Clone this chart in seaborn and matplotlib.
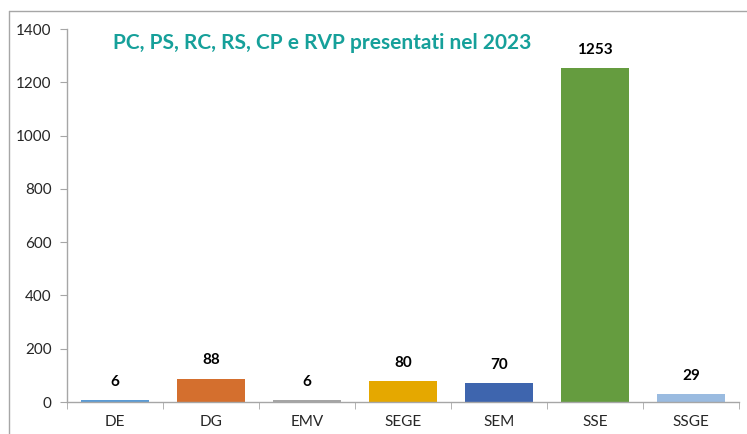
import pandas as pd
import matplotlib
matplotlib.use('Agg')
import matplotlib.pyplot as plt
import seaborn as sns
from matplotlib.lines import Line2D

# dati
categorie = ['DE', 'DG', 'EMV', 'SEGE', 'SEM', 'SSE', 'SSGE']
valori = [6, 88, 6, 80, 70, 1253, 29]
colori = ['#5B9BD5', '#D46F2E', '#A5A5A5', '#E5A800', '#3E65AE', '#659C3F', '#9ABBE0']
titolo = 'PC, PS, RC, RS, CP e RVP presentati nel 2023'

df = pd.DataFrame({'cat': categorie, 'val': valori})

sns.set_style('white')
plt.rcParams['font.family'] = ['Lato', 'DejaVu Sans']

fig = plt.figure(figsize=(7.47, 4.34), dpi=100)
ax = fig.add_axes([67 / 747, 32 / 434, (739 - 67) / 747, (405 - 32) / 434])

sns.barplot(data=df, x='cat', y='val', hue='cat', palette=colori, legend=False,
            width=0.71, ax=ax, saturation=1, edgecolor='none')

ax.set_xlim(-0.5, len(categorie) - 0.5)
ax.set_ylim(0, 1400)
ax.set_yticks(range(0, 1401, 200))
ax.set_xlabel('')
ax.set_ylabel('')

grigio = '#A6A6A6'
for s in ['top', 'right']:
    ax.spines[s].set_visible(False)
for s in ['left', 'bottom']:
    ax.spines[s].set_color(grigio)
    ax.spines[s].set_linewidth(1.0)

ax.tick_params(axis='y', which='major', length=5, color=grigio, labelsize=11, pad=6, direction='out', left=True)
ax.tick_params(axis='x', which='major', length=0, labelsize=11, pad=9)
ax.set_xticks([i - 0.5 for i in range(len(categorie) + 1)], minor=True)
ax.tick_params(axis='x', which='minor', length=5, color=grigio, direction='out', bottom=True)

for i, v in enumerate(valori):
    ax.annotate(str(v), (i, v), xytext=(0, 8), textcoords='offset points',
                ha='center', va='bottom', fontsize=11, fontweight='bold', color='black')

fig.text(113 / 747, (434 - 43) / 434, titolo, fontsize=15, fontweight='bold',
         color='#16A09A', ha='left', va='center')

# bordo esterno del grafico
fig.add_artist(Line2D([9 / 747, 1], [1 - 11 / 434, 1 - 11 / 434], color=grigio, lw=1, transform=fig.transFigure))
fig.add_artist(Line2D([9 / 747, 9 / 747], [0, 1 - 11 / 434], color=grigio, lw=1, transform=fig.transFigure))

fig.savefig('out.png', dpi=100)
